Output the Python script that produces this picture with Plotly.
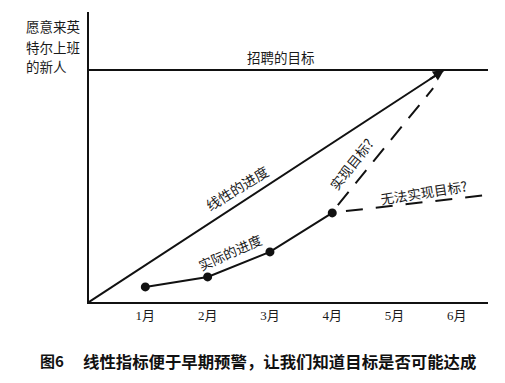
import plotly.graph_objects as go

# ---- data ----
months = [1, 2, 3, 4, 5, 6]
month_labels = ["1月", "2月", "3月", "4月", "5月", "6月"]
target_value = 100
linear_x = [0.096, 5.795]
linear_y = [0, 100]
actual_x = [1, 2, 3, 4]
actual_y = [6.5, 10.8, 21.6, 38.4]
reach_x = [4.09, 5.62]
reach_y = [41.8, 92.2]
miss_x = [4.22, 6.48]
miss_y = [39.2, 46.1]

X_MIN, X_MAX = 0.096, 6.5
Y_MIN, Y_MAX = 0, 125

CJK = "Noto Sans CJK SC"
SERIF = "Liberation Serif, Noto Sans CJK SC"
INK = "#111111"
TXT = "#1a1a1a"

fig = go.Figure()

fig.add_trace(go.Scatter(x=[X_MIN, X_MAX], y=[target_value, target_value], mode="lines",
                         line=dict(color=INK, width=2), hoverinfo="skip"))
fig.add_trace(go.Scatter(x=linear_x, y=linear_y, mode="lines",
                         line=dict(color=INK, width=2), hoverinfo="skip"))
fig.add_trace(go.Scatter(x=reach_x, y=reach_y, mode="lines",
                         line=dict(color=INK, width=2, dash="17px,11px"), hoverinfo="skip"))
fig.add_trace(go.Scatter(x=miss_x, y=miss_y, mode="lines",
                         line=dict(color=INK, width=2, dash="17px,13px"), hoverinfo="skip"))
fig.add_trace(go.Scatter(x=actual_x, y=actual_y, mode="lines+markers",
                         line=dict(color=INK, width=2),
                         marker=dict(color=INK, size=9), hoverinfo="skip"))

# arrow head at end of linear line
slope = (linear_y[1] - linear_y[0]) / (linear_x[1] - linear_x[0])
fig.add_annotation(x=linear_x[1], y=linear_y[1], ax=linear_x[1] - 0.25, ay=linear_y[1] - 0.25 * slope,
                   xref="x", yref="y", axref="x", ayref="y", text="", showarrow=True,
                   arrowhead=2, arrowsize=1.1, arrowwidth=2, arrowcolor=INK)

def label(text, x, y, angle=0, size=13.5, **kw):
    fig.add_annotation(x=x, y=y, xref="x", yref="y", text=text, showarrow=False,
                       textangle=angle, font=dict(family=CJK, size=size, color=TXT), **kw)

label("招聘的目标", 3.18, 105.8, 0, 13.5)
label("线性的进度", 2.47, 49.1, -31.6, 14)
label("实际的进度", 2.36, 21.6, -24, 13.5)
label("实现目标?", 4.30, 59.5, -52, 13.5)
label("无法实现目标?", 5.47, 47.4, -9, 13.5)

# y axis title (three lines)
for txt, yy in [("愿意来英", 0.951), ("特尔上班", 0.879), ("的新人", 0.813)]:
    fig.add_annotation(x=-0.163, y=yy, xref="paper", yref="paper", text=txt, showarrow=False,
                       xanchor="left", yanchor="middle",
                       font=dict(family=CJK, size=13.5, color=TXT))

# caption
fig.add_annotation(x=-0.128, y=-0.2034, xref="paper", yref="paper", text="<b>图6</b>", showarrow=False,
                   xanchor="left", yanchor="middle", font=dict(family=CJK, size=15, color="#111"))
fig.add_annotation(x=-0.020, y=-0.2034, xref="paper", yref="paper",
                   text="<b>线性指标便于早期预警，让我们知道目标是否可能达成</b>", showarrow=False,
                   xanchor="left", yanchor="middle", font=dict(family=CJK, size=16.4, color="#111"))

fig.update_layout(
    width=505, height=383,
    margin=dict(l=81, r=25, t=4, b=89),
    paper_bgcolor="white", plot_bgcolor="white",
    showlegend=False,
    xaxis=dict(range=[X_MIN, X_MAX], tickvals=months, ticktext=month_labels,
               showgrid=False, zeroline=False, showline=True, linecolor=INK, linewidth=2,
               ticks="", tickfont=dict(family=SERIF, size=13, color=TXT),
               fixedrange=True),
    yaxis=dict(range=[Y_MIN, Y_MAX], showticklabels=False, showgrid=False, zeroline=False,
               showline=True, linecolor=INK, linewidth=2, ticks="", fixedrange=True),
)

fig.write_html("out.html")
